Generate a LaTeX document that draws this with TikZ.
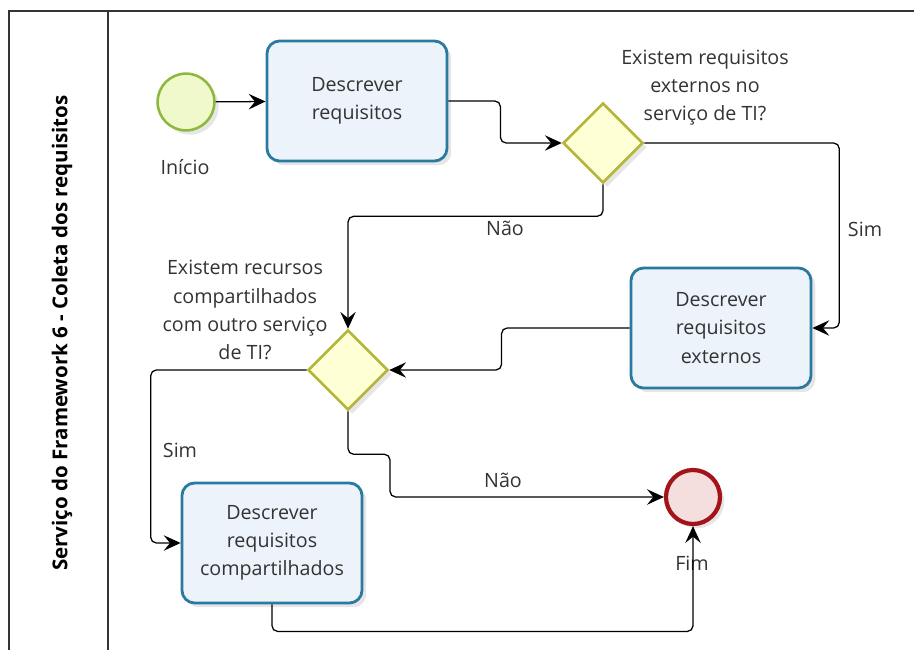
\documentclass[tikz,border=0pt]{standalone}
\usepackage{fontspec}
\setmainfont{Open Sans}
\usetikzlibrary{shapes, arrows.meta, positioning, shadows}

\definecolor{taskline}{HTML}{2A7AA0}
\definecolor{taskfill}{HTML}{EDF3FB}
\definecolor{gateline}{HTML}{B5B63E}
\definecolor{gatefill}{HTML}{FFFFD6}
\definecolor{startline}{HTML}{8DB83C}
\definecolor{startfill}{HTML}{EFF9CC}
\definecolor{endline}{HTML}{A3141A}
\definecolor{endfill}{HTML}{F5DEDE}
\definecolor{txt}{HTML}{333333}

\tikzset{
  task/.style={draw=taskline, fill=taskfill, line width=2pt, rounded corners=9pt,
    minimum width=4.5cm, minimum height=3cm, align=center, text=txt,
    drop shadow={opacity=0.2, shadow xshift=3pt, shadow yshift=-3pt}},
  gateway/.style={diamond, draw=gateline, fill=gatefill, line width=1.8pt,
    minimum width=2cm, minimum height=2cm, inner sep=0pt,
    drop shadow={opacity=0.2, shadow xshift=3pt, shadow yshift=-3pt}},
  startev/.style={circle, draw=startline, fill=startfill, line width=1.8pt,
    minimum size=1.42cm, inner sep=0pt,
    drop shadow={opacity=0.2, shadow xshift=3pt, shadow yshift=-3pt}},
  endev/.style={circle, draw=endline, fill=endfill, line width=3pt,
    minimum size=1.35cm, inner sep=0pt,
    drop shadow={opacity=0.2, shadow xshift=3pt, shadow yshift=-3pt}},
  lbl/.style={text=txt, align=center, inner sep=0pt},
  flow/.style={-{Stealth[length=12pt, width=11pt, inset=4.5pt]}, rounded corners=4pt, line width=0.9pt},
}

\begin{document}
\begin{tikzpicture}[x=0.025cm, y=-0.025cm, font=\fontsize{14}{20}\selectfont]
  \useasboundingbox (0,0) rectangle (914,650);

  % pool and lane
  \draw [line width=1.3pt, draw=txt] (9,650) -- (9,11) -- (914,11);
  \draw [line width=1.3pt, draw=txt] (108,11) -- (108,650);
  \node [lbl, rotate=90, font=\fontsize{14.6}{20}\selectfont\bfseries, text=black] (lane) at (62,333)
    {Serviço do Framework 6 - Coleta dos requisitos};

  % events and tasks
  \node [startev] (Inicio) at (186,102) {};
  \node [lbl] (InicioTxt) at (185,167) {Início};
  \node [task] (DescReq) at (357,101) {Descrever\\requisitos};
  \node [gateway] (GwExt) at (603,143) {};
  \node [lbl] (GwExtTxt) at (705,88) {Existem requisitos\\externos no\\serviço de TI?};
  \node [task] (DescExt) at (721,328) {Descrever\\requisitos\\externos};
  \node [gateway] (GwComp) at (348,370) {};
  \node [lbl] (GwCompTxt) at (245,310) {Existem recursos\\compartilhados\\com outro serviço\\de TI?};
  \node [task] (DescComp) at (272,543) {Descrever\\requisitos\\compartilhados};
  \node [endev] (Fim) at (693,497) {};
  \node [lbl] (FimTxt) at (692,563) {Fim};

  % flows
  \draw [flow] (Inicio) -- (DescReq);
  \draw [flow] (DescReq.east) -- ++(52,0) |- (GwExt.west);
  \draw [flow] (GwExt.east) -- ++(195,0) |- (DescExt.east);
  \node [lbl] (SimExt) at (865,229) {Sim};
  \draw [flow] (DescExt.west) -- ++(-128,0) |- (GwComp.east);
  \draw [flow] (GwExt.south) -- ++(0,32) -| (GwComp.north);
  \node [lbl] (NaoExt) at (505,228) {Não};
  \draw [flow] (GwComp.west) -- ++(-156,0) |- (DescComp.west);
  \node [lbl] (SimComp) at (180,450) {Sim};
  \draw [flow] (GwComp.south) -- ++(0,43) -- ++(42,0) |- (Fim.west);
  \node [lbl] (NaoComp) at (503,480) {Não};
  \draw [flow] (DescComp.south) -- ++(0,27) -| (Fim.south);
\end{tikzpicture}
\end{document}
